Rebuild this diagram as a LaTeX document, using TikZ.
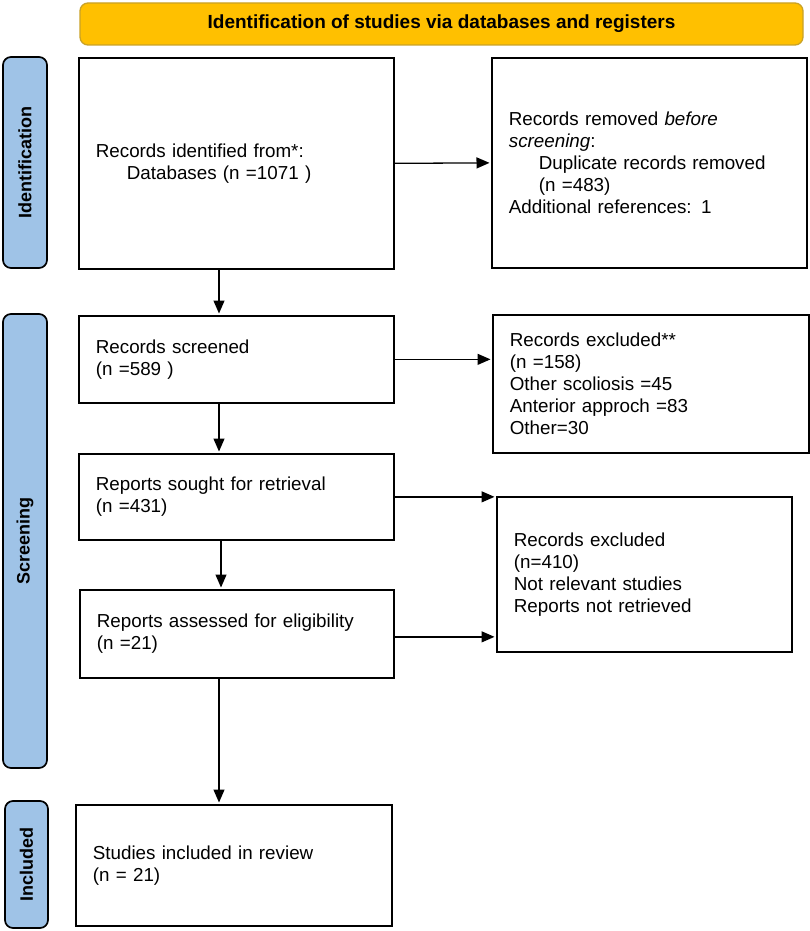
\documentclass[tikz,border=0pt]{standalone}
\usepackage{fontspec}
\setmainfont{Liberation Sans}
\usetikzlibrary{arrows.meta}
\definecolor{hdrfill}{HTML}{FFC000}
\definecolor{hdrdraw}{HTML}{C9A227}
\definecolor{sideblue}{HTML}{9FC3E7}
\begin{document}
\begin{tikzpicture}[x=1pt,y=-1pt,
  box/.style={draw=black, line width=1.7pt, inner xsep=17pt, inner ysep=0pt, align=left, anchor=north west, font=\fontsize{18.8}{22}\selectfont},
  side/.style={draw=black, line width=1.7pt, fill=sideblue, rounded corners=8pt, rotate=90, inner sep=0pt, font=\bfseries\fontsize{18}{22}\selectfont},
  arr/.style={line width=1.3pt, shorten >=1.5pt, -{Triangle[length=13pt,width=11pt]}}]
\useasboundingbox (0,0) rectangle (810,931);
% header
\node[draw=hdrdraw, fill=hdrfill, rounded corners=8pt, line width=1.3pt, minimum width=723pt, minimum height=42pt, inner sep=0pt, font=\bfseries\fontsize{19}{22}\selectfont] (hdr) at (441.5,24) {Identification of studies via databases and registers};
% side bars
\node[side, minimum width=211pt, minimum height=44pt] (sid) at (25,162.5) {Identification};
\node[side, minimum width=454pt, minimum height=44pt] (ssc) at (25,541) {Screening};
\node[side, minimum width=127pt, minimum height=43pt] (sin) at (26.5,864.5) {Included};
% left column
\node[box, text width=281pt, minimum height=211pt] (b1) at (78,57) {Records identified from*:\\\hspace*{31pt}Databases (n =1071 )};
\node[box, text width=281pt, minimum height=87pt] (b2) at (78,315) {Records screened\\(n =589 )};
\node[box, text width=281pt, minimum height=86pt] (b3) at (78,453) {Reports sought for retrieval\\(n =431)};
\node[box, text width=280pt, minimum height=88pt] (b4) at (79,589) {Reports assessed for eligibility\\(n =21)};
\node[box, text width=282pt, minimum height=121pt] (b5) at (75,804) {Studies included in review\\(n = 21)};
% right column
\node[box, text width=281pt, minimum height=210pt] (r1) at (491,57) {Records removed \textit{before}\\\textit{screening}:\\\hspace*{30pt}Duplicate records removed\\\hspace*{30pt}(n =483)\\Additional references: 1};
\node[box, text width=282pt, minimum height=138pt] (r2) at (492,314) {Records excluded**\\(n =158)\\Other scoliosis =45\\Anterior approch =83\\Other=30};
\node[box, text width=261pt, minimum height=155pt] (r3) at (496,496) {Records excluded\\(n=410)\\Not relevant studies\\Reports not retrieved};
% connectors
\coordinate (cx) at (219,0);
\coordinate (cy) at (221,0);
\draw[arr] (b1.south -| cx) -- (b2.north -| cx);
\draw[arr] (b2.south -| cx) -- (b3.north -| cx);
\draw[arr] (b3.south -| cy) -- (b4.north -| cy);
\draw[arr] (b4.south -| cx) -- (b5.north -| cx);
\draw[arr] (b1.east) -- (r1.west);
\draw[arr] (b2.east) -- (b2.east -| r2.west);
\draw[arr] (b3.east) -- (b3.east -| r3.west);
\draw[arr] ([yshift=-3pt]b4.east) -- ([yshift=-3pt]b4.east -| r3.west);
\end{tikzpicture}
\end{document}
